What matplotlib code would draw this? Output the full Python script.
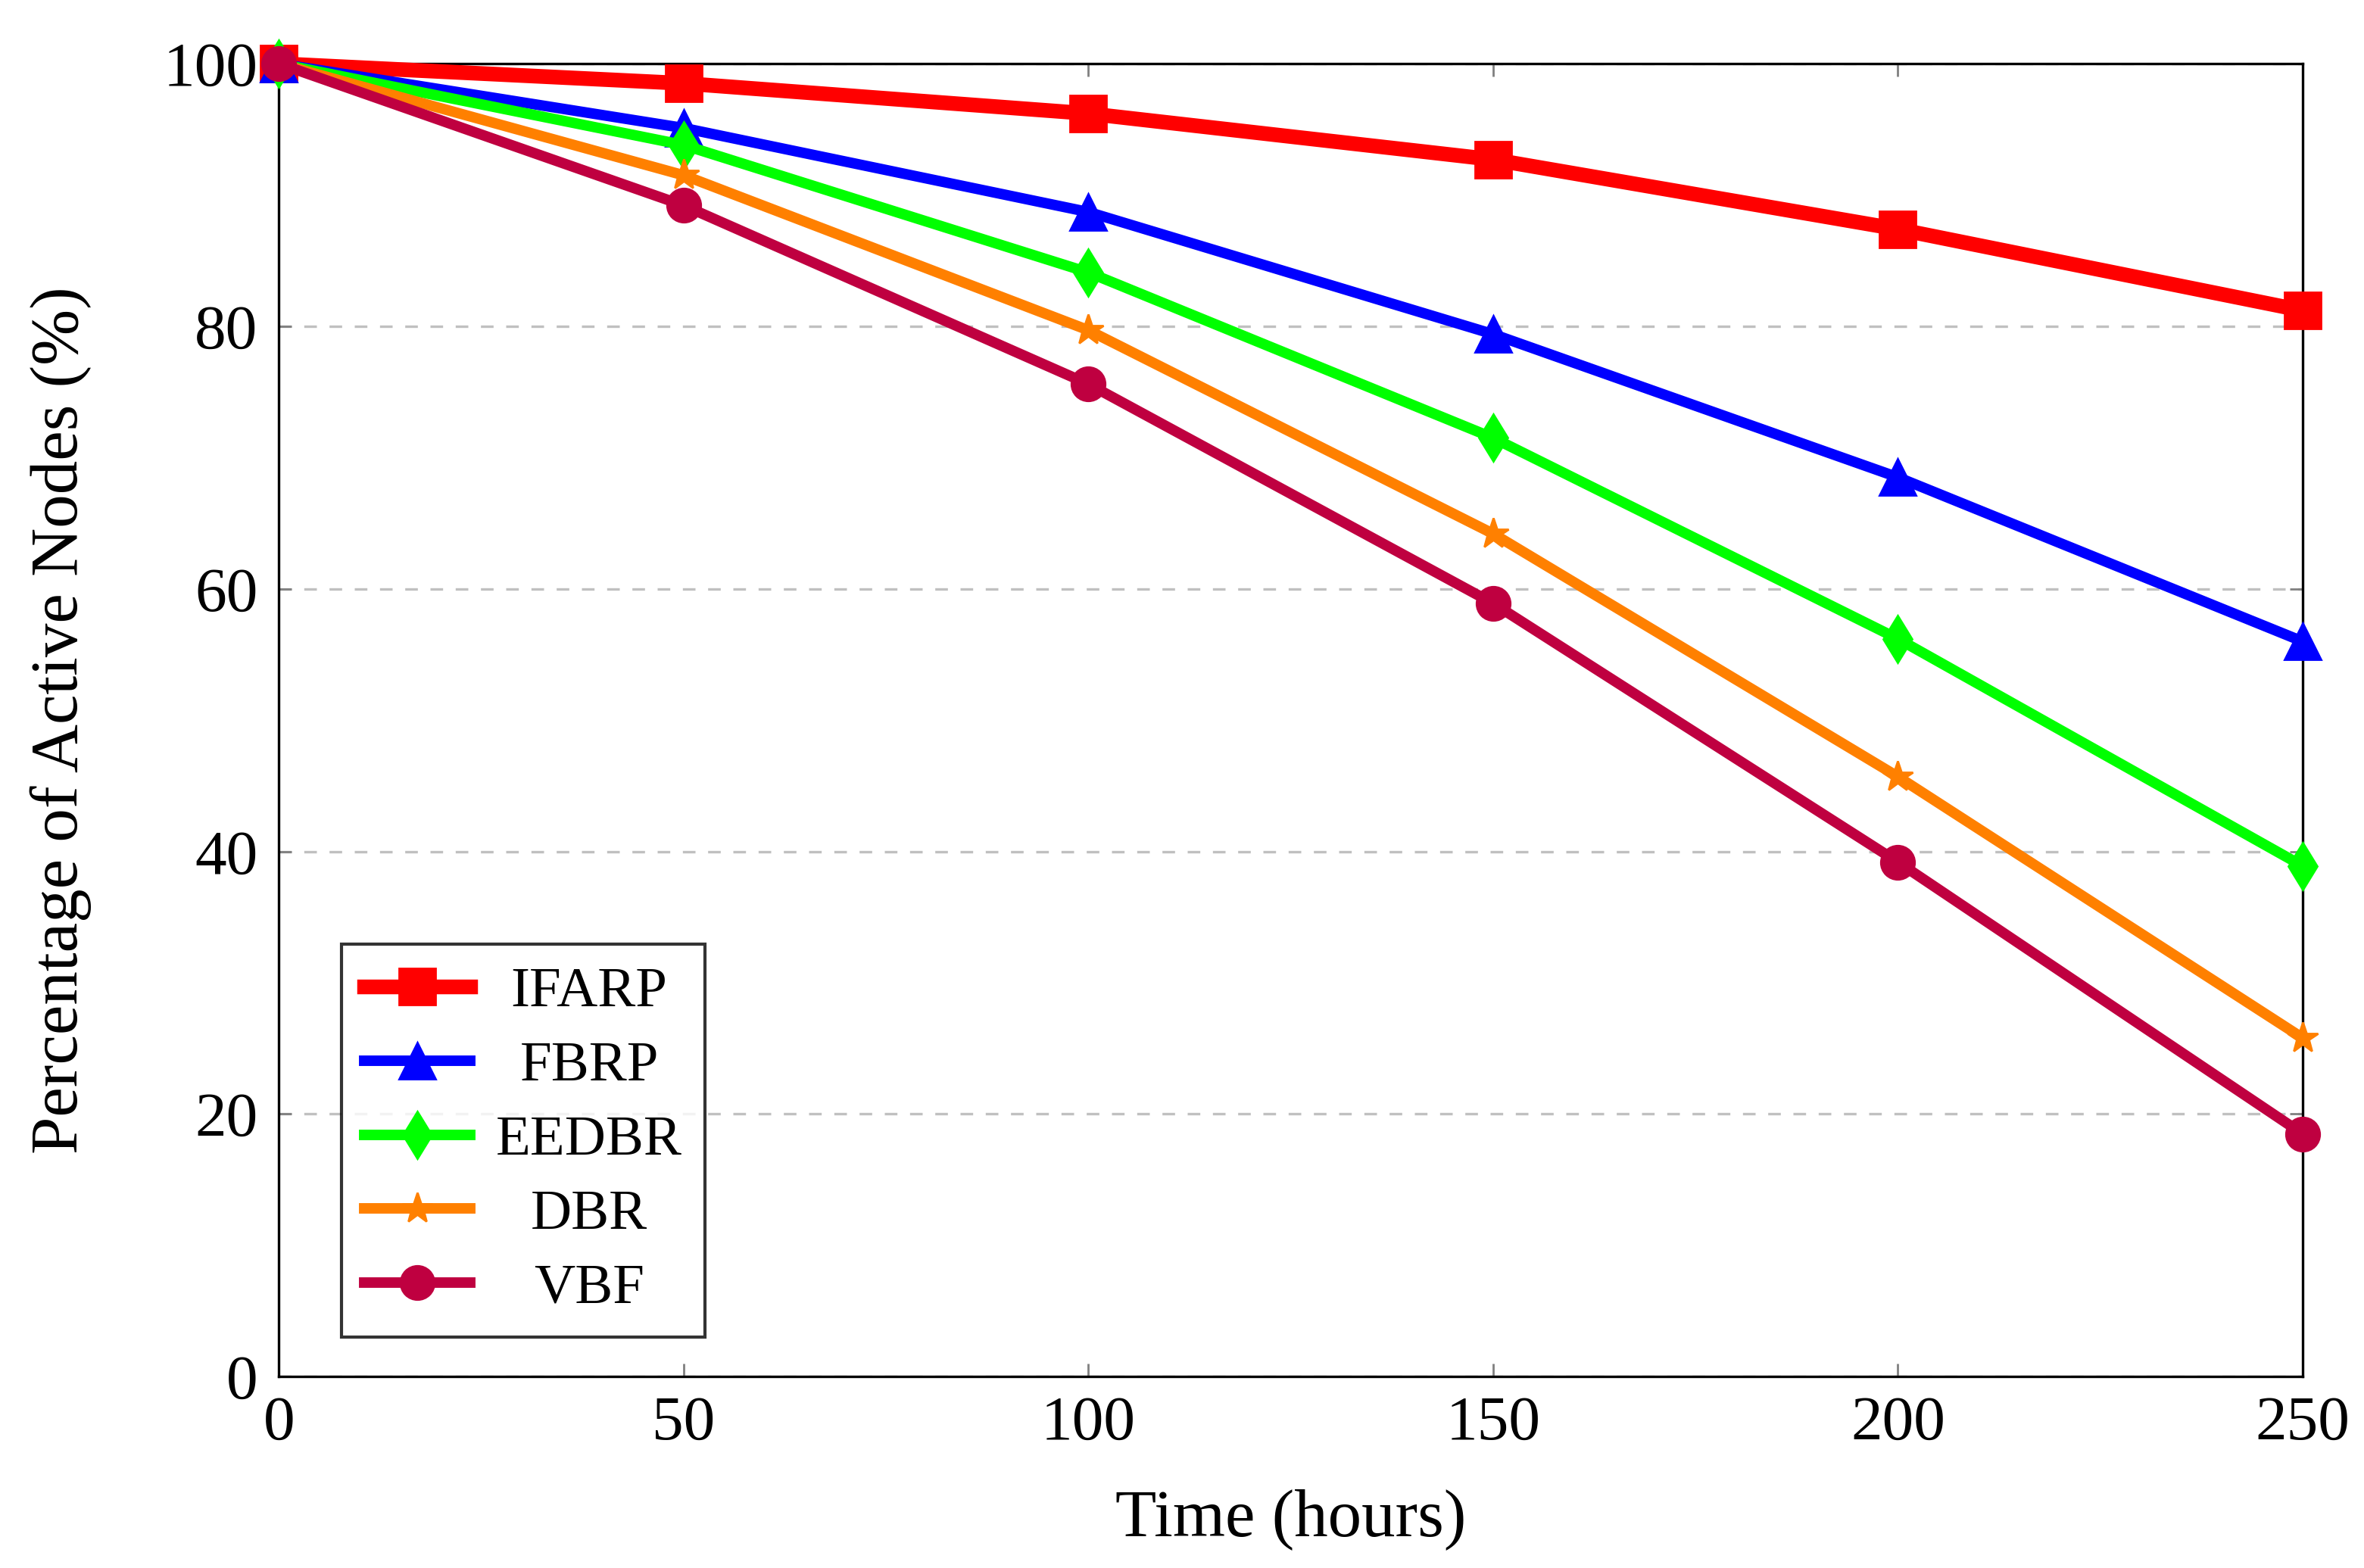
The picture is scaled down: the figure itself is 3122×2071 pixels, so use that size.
import matplotlib
matplotlib.use("Agg")
import matplotlib.pyplot as plt

time_hours = [0, 50, 100, 150, 200, 250]
ifarp = [100, 98.5, 96.2, 92.7, 87.4, 81.2]
fbrp = [100, 95.1, 88.7, 79.4, 68.5, 56.0]
eedbr = [100, 93.8, 84.1, 71.5, 56.2, 38.9]
dbr = [100, 91.5, 79.7, 64.2, 45.7, 25.8]
vbf = [100, 89.2, 75.6, 58.9, 39.2, 18.5]
labels = ["IFARP", "FBRP", "EEDBR", "DBR", "VBF"]
x_ticks = [0, 50, 100, 150, 200, 250]
y_ticks = [0, 20, 40, 60, 80, 100]

plt.rcParams['font.family'] = ['Liberation Serif', 'DejaVu Serif']
plt.rcParams['mathtext.fontset'] = 'stix'

fig = plt.figure(figsize=(15.61, 10.355), dpi=200)
ax = fig.add_axes([0.118, 0.122, 0.856, 0.8374])

series = [ifarp, fbrp, eedbr, dbr, vbf]
colors = ['#ff0000', '#0000ff', '#00ff00', '#ff8000', '#bf0040']
markers = ['s', '^', 'd', '*', 'o']
msizes = [17, 17, 16, 15, 16]
lws = [7, 5, 5, 5, 5]

for ys, lab, c, m, ms, lw in zip(series, labels, colors, markers, msizes, lws):
    ax.plot(time_hours, ys, color=c, marker=m, markersize=ms, linewidth=lw,
            label=lab, clip_on=False, zorder=3)

ax.set_xlim(0, 250)
ax.set_ylim(0, 100)
ax.set_xticks(x_ticks)
ax.set_yticks(y_ticks)
ax.tick_params(axis='both', labelsize=30, direction='in', length=6,
               color='#808080', width=1, top=True, right=True)
ax.tick_params(axis='x', pad=9)
ax.tick_params(axis='y', pad=10)
ax.yaxis.grid(True, linestyle=(0, (5, 5)), color='#c0c0c0', linewidth=1.2)
ax.set_axisbelow(True)
for sp in ax.spines.values():
    sp.set_linewidth(1.2)
    sp.set_zorder(2)

ax.set_xlabel("Time (hours)", fontsize=32, labelpad=17)
ax.set_ylabel("Percentage of Active Nodes (%)", fontsize=32, labelpad=34)

leg = ax.legend(loc='lower left', bbox_to_anchor=(0.031, 0.030), fontsize=27,
                frameon=True, fancybox=False, edgecolor='black',
                handlelength=1.87, labelspacing=0.39, borderpad=0.4,
                handletextpad=0.45, borderaxespad=0)
leg.get_frame().set_linewidth(1.5)
leg.set_zorder(5)

# center legend labels within their column
fig.canvas.draw()
r = fig.canvas.get_renderer()
texts = leg.get_texts()
ws = [t.get_window_extent(r).width for t in texts]
W = max(ws)
for t, w in zip(texts, ws):
    t.set_position(((W - w) / 2.0, 0))

fig.savefig("out.png", dpi=200, facecolor='white')
